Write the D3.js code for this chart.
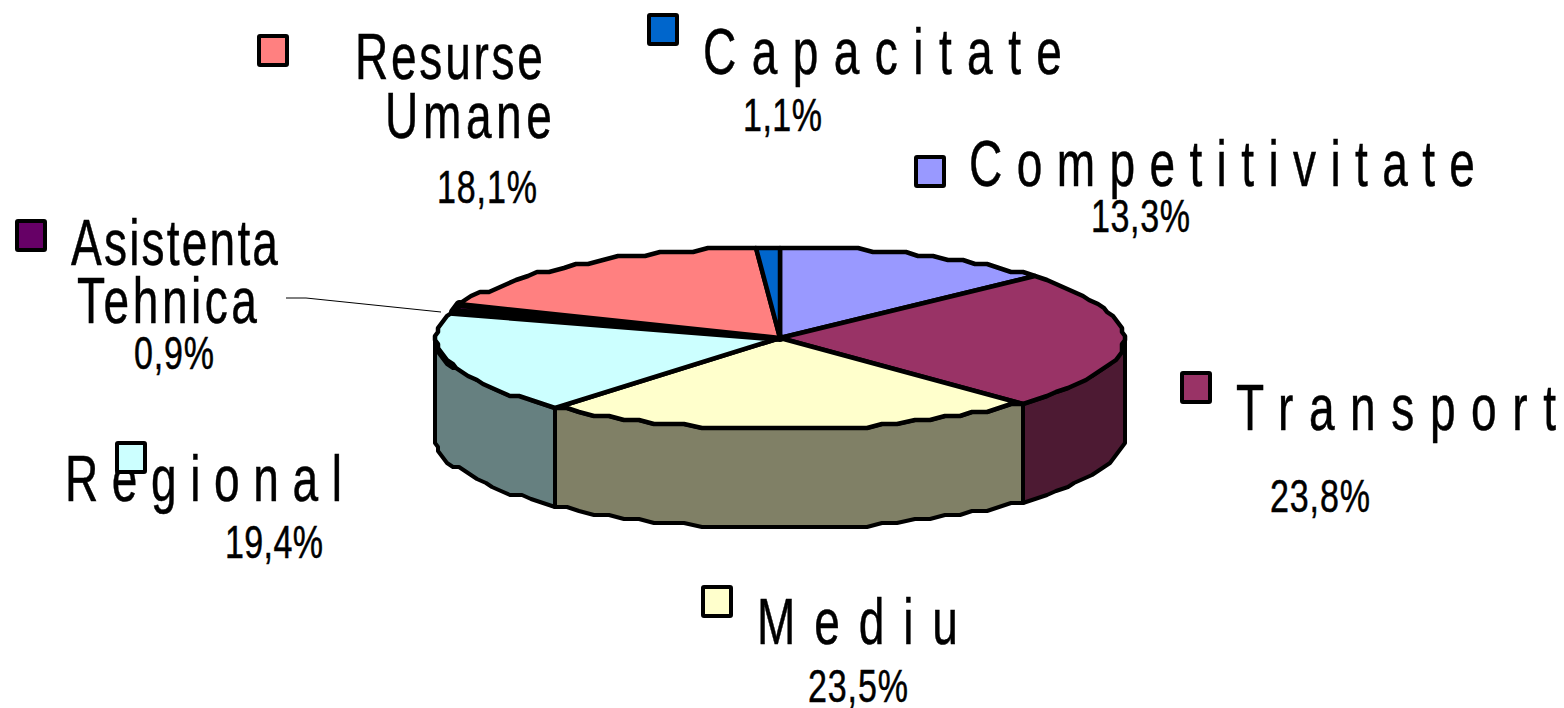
<!DOCTYPE html>
<html>
<head>
<meta charset="utf-8">
<script src="https://cdn.jsdelivr.net/npm/d3@7"></script>
<style>
  html, body { margin: 0; background: #fff; overflow: hidden; }
  text { font-family: "Liberation Sans", Arial, sans-serif; fill: #000; stroke: #000; stroke-width: 0.5px; }
</style>
</head>
<body>
<div class="PieChart"></div>
<script>
// clockwise from 12 o'clock
const categories = ["Competitivitate", "Transport", "Mediu", "Regional", "Asistenta Tehnica", "Resurse Umane", "Capacitate"];
const shares = [13.3, 23.8, 23.5, 19.4, 0.9, 18.1, 1.1];
const shareLabels = ["13,3%", "23,8%", "23,5%", "19,4%", "0,9%", "18,1%", "1,1%"];
const topColors = ["#9999ff", "#993366", "#ffffcc", "#ccffff", "#660066", "#ff8080", "#0066cc"];
const wallColors = ["#4d4d80", "#4d1a33", "#808066", "#668080", "#330033", "#804040", "#003366"];

const width = 1564, height = 708;
const depth = 99;

const x = d3.scaleLinear().domain([-1, 1]).range([436, 1124]);
const y = d3.scaleLinear().domain([-1, 1]).range([247, 429]);

// the tilt pushes the front of the disc round a little
const deg = Math.PI / 180;
const view = d3.scaleLinear()
  .domain([0, 90, 134, 218, 270, 360].map(d => d * deg))
  .range([0, 90, 135.4, 221.2, 270, 360].map(d => d * deg));

// left, right, baseline of every text line
const nameLines = {
  "Competitivitate": [["Competitivitate", 969, 1475, 186]],
  "Transport": [["Transport", 1236, 1556, 430]],
  "Mediu": [["Mediu", 757, 958, 644]],
  "Regional": [["Regional", 65, 342, 501]],
  "Asistenta Tehnica": [["Asistenta", 71, 278, 265], ["Tehnica", 77, 257, 323]],
  "Resurse Umane": [["Resurse", 355, 543, 79], ["Umane", 385, 552, 138]],
  "Capacitate": [["Capacitate", 703, 1062, 74]]
};
const sharePlaces = {
  "Competitivitate": [1091, 1190, 232],
  "Transport": [1270, 1370, 512],
  "Mediu": [808, 908, 702],
  "Regional": [225, 323, 558],
  "Asistenta Tehnica": [134, 214, 369],
  "Resurse Umane": [437, 537, 203],
  "Capacitate": [743, 822, 131]
};
const keyPlaces = {
  "Competitivitate": [915, 156],
  "Transport": [1181, 372],
  "Mediu": [702, 586],
  "Regional": [116, 442],
  "Asistenta Tehnica": [16, 220],
  "Resurse Umane": [258, 35],
  "Capacitate": [648, 14]
};
const leader = [[286, 298], [306, 298], [441, 312]];

const svg = d3.select(".PieChart").append("svg")
  .attr("width", width)
  .attr("height", height);

const line = d3.line();

// the rim is a coarse polyline snapped to a grid, like the old metafile export
function rimPoint(angle) {
  const a = view(angle);
  return [
    Math.round(x(Math.sin(a)) / 3) * 3,
    Math.round(y(-Math.cos(a)) / 4) * 4
  ];
}

function rimPoints(a0, a1) {
  const steps = Math.max(1, Math.ceil((a1 - a0) / (Math.PI / 64)));
  return d3.range(steps + 1).map(i => rimPoint(a0 + (a1 - a0) * i / steps));
}

const slices = d3.pie().sort(null).value(d => d)(shares);

function drawWalls() {
  slices.forEach((s, i) => {
    const a0 = Math.max(s.startAngle, Math.PI / 2);
    const a1 = Math.min(s.endAngle, Math.PI * 1.5);
    if (a1 <= a0) return;
    const upper = rimPoints(a0, a1);
    const lower = upper.map(p => [p[0], p[1] + depth]).reverse();
    svg.append("path")
      .attr("d", line(upper.concat(lower)) + "Z")
      .attr("fill", wallColors[i])
      .attr("stroke", "#000")
      .attr("stroke-width", 4)
      .attr("stroke-linejoin", "round");
  });
}

function drawTops() {
  const hub = [x(0), y(0)];
  slices.forEach((s, i) => {
    const pts = [hub].concat(rimPoints(s.startAngle, s.endAngle));
    svg.append("path")
      .attr("d", line(pts) + "Z")
      .attr("fill", topColors[i])
      .attr("stroke", "#000")
      // the thinnest slice closes up into a black wedge
      .attr("stroke-width", s.endAngle - s.startAngle < 0.06 ? 8 : 4.5)
      .attr("stroke-linejoin", "round");
  });
}

// narrow glyphs stretched out to the measured width, as in the original
function addText(str, left, right, base, size, squeeze) {
  svg.append("text")
    .attr("transform", `translate(${left},${base}) scale(${squeeze},1)`)
    .attr("font-size", size)
    .attr("textLength", (right - left) / squeeze)
    .attr("lengthAdjust", "spacing")
    .text(str);
}

function drawLabels() {
  categories.forEach((c, i) => {
    nameLines[c].forEach(l => addText(l[0], l[1], l[2], l[3], 64, 0.72));
    const p = sharePlaces[c];
    addText(shareLabels[i], p[0], p[1], p[2], 46, 0.74);
  });
}

function drawKeys() {
  categories.forEach((c, i) => {
    svg.append("rect")
      .attr("x", keyPlaces[c][0] + 1)
      .attr("y", keyPlaces[c][1] + 1)
      .attr("width", 28)
      .attr("height", 29)
      .attr("rx", 1)
      .attr("fill", topColors[i])
      .attr("stroke", "#000")
      .attr("stroke-width", 4);
  });
}

drawWalls();
drawTops();
drawLabels();
drawKeys();

svg.append("path")
  .attr("d", line(leader))
  .attr("fill", "none")
  .attr("stroke", "#000")
  .attr("stroke-width", 1);
</script>
</body>
</html>
